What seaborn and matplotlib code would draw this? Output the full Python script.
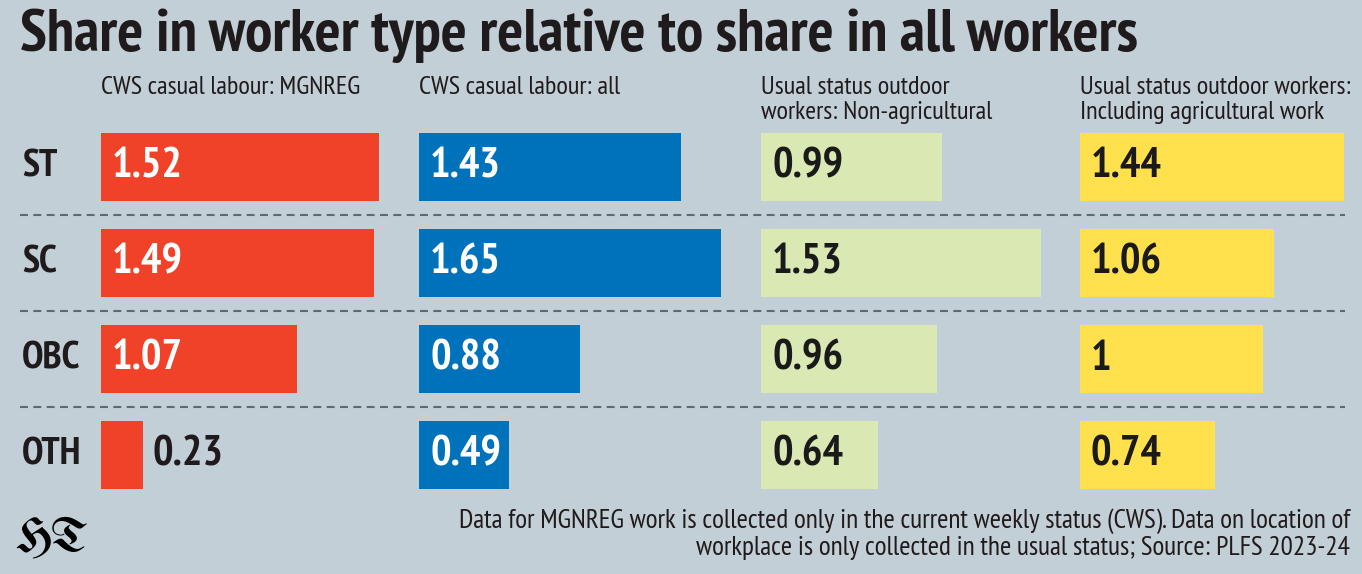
import matplotlib.pyplot as plt
from matplotlib import font_manager
import seaborn as sns
import pandas as pd

# Data
groups = ["ST", "SC", "OBC", "OTH"]
mgnreg = [1.52, 1.49, 1.07, 0.23]
casual_all = [1.43, 1.65, 0.88, 0.49]
outdoor_nonagri = [0.99, 1.53, 0.96, 0.64]
outdoor_agri = [1.44, 1.06, 1.0, 0.74]

panel_titles = [
    "CWS casual labour: MGNREG",
    "CWS casual labour: all",
    "Usual status outdoor\nworkers: Non-agricultural",
    "Usual status outdoor workers:\nIncluding agricultural work",
]
title = "Share in worker type relative to share in all workers"
note = ("Data for MGNREG work is collected only in the current weekly status (CWS). Data on location of\n"
        "workplace is only collected in the usual status; Source: PLFS 2023-24")

# Style
BG = "#c3cfd6"
bar_colors = ["#f04129", "#0072bc", "#dae9b4", "#ffe14d"]
label_colors = ["white", "white", "#1a1a1a", "#1a1a1a"]
TXT = "#1f1a1c"

sns.set_style("white")
available = {f.name for f in font_manager.fontManager.ttflist}
narrow = "DejaVu Sans"
for cand in ["PT Sans Narrow", "Fira Sans Condensed", "Open Sans Condensed",
             "Roboto Condensed", "Barlow Semi Condensed", "Asap Condensed"]:
    if cand in available:
        narrow = cand
        break
gothic = "DejaVu Serif"
for cand in ["UnifrakturMaguntia", "UnifrakturCook", "Pirata One", "Grenze Gotisch", "Fruktur"]:
    if cand in available:
        gothic = cand
        break
plt.rcParams["font.family"] = [narrow, "DejaVu Sans"]
plt.rcParams["font.stretch"] = "condensed"

W, H = 1362, 574
fig = plt.figure(figsize=(W / 100, H / 100), dpi=100)
fig.patch.set_facecolor(BG)


def fit(t, target_px):
    # scale a text so it spans target_px pixels
    r = fig.canvas.get_renderer()
    w = t.get_window_extent(renderer=r).width
    t.set_fontsize(t.get_fontsize() * target_px / w)
    return t.get_fontsize()


# rows area in pixels
top_px, bot_px = 119, 503
ax_b = 1 - bot_px / H
ax_h = (bot_px - top_px) / H

# background axis for separators and row labels
ax_bg = fig.add_axes([0, ax_b, 1, ax_h])
ax_bg.set_xlim(0, W)
ax_bg.set_ylim(len(groups) - 0.5, -0.5)
ax_bg.axis("off")
ax_bg.patch.set_alpha(0)
for i in range(len(groups) - 1):
    ax_bg.plot([20, 1345], [i + 0.5, i + 0.5], color="#5b6a73", lw=1.5,
               linestyle=(0, (3.8, 2.6)))
for i, g in enumerate(groups):
    ax_bg.text(22, i, g, fontsize=28, fontweight="bold", color=TXT, va="center", ha="left")

# bar panels
series = [mgnreg, casual_all, outdoor_nonagri, outdoor_agri]
starts = [101, 419, 761, 1080]
px_per_unit = 183
panel_w = 320

for k, vals in enumerate(series):
    df = pd.DataFrame({"group": groups, "value": vals})
    ax = fig.add_axes([starts[k] / W, ax_b, panel_w / W, ax_h])
    sns.barplot(data=df, x="value", y="group", color=bar_colors[k], saturation=1,
                width=0.71, errorbar=None, linewidth=0, ax=ax)
    ax.set_xlim(0, panel_w / px_per_unit)
    ax.set_ylim(len(groups) - 0.5, -0.5)
    ax.axis("off")
    ax.patch.set_alpha(0)
    for i, v in enumerate(vals):
        txt = f"{v:g}"
        if v < 0.3:
            ax.text(v + 9 / px_per_unit, i, txt, fontsize=31, fontweight="heavy",
                    color=TXT, va="center", ha="left")
        else:
            ax.text(11 / px_per_unit, i, txt, fontsize=31, fontweight="heavy",
                    color=label_colors[k], va="center", ha="left")
    # panel header
    for j, line in enumerate(panel_titles[k].split("\n")):
        fig.text(starts[k] / W, 1 - (88 + 25 * j) / H, line, fontsize=19,
                 color=TXT, va="center", ha="left")

# title
t = fig.text(20 / W, 1 - 36 / H, title, fontsize=40, fontweight="black", color=TXT,
             va="center", ha="left")
fit(t, 1120)

# footnote
lines = note.split("\n")
t1 = fig.text(1350 / W, 1 - 521 / H, lines[0], fontsize=18, color=TXT, va="center", ha="right")
fs = fit(t1, 889)
fig.text(1350 / W, 1 - 548 / H, lines[1], fontsize=fs, color=TXT, va="center", ha="right")

# logo
logo = fig.text(15 / W, 1 - 540 / H, "HT", fontsize=34, family=gothic,
                color="black", va="center", ha="left")
fit(logo, 73)

plt.savefig("out.png", dpi=100, facecolor=BG)
